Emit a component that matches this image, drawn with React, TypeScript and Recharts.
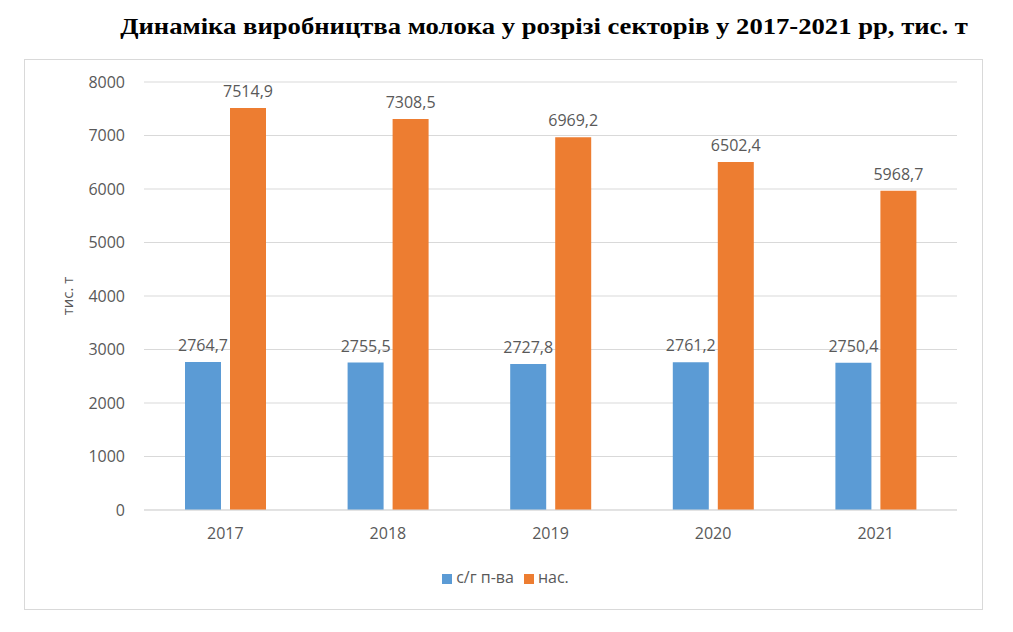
import React from 'react';
import { Bar, BarChart, CartesianGrid, LabelList, Legend, XAxis, YAxis } from 'recharts';

const years = ['2017', '2018', '2019', '2020', '2021'];
const enterprises = [2764.7, 2755.5, 2727.8, 2761.2, 2750.4];
const households = [7514.9, 7308.5, 6969.2, 6502.4, 5968.7];
const yTicks = [0, 1000, 2000, 3000, 4000, 5000, 6000, 7000, 8000];

const data = years.map((year, i) => ({
  year,
  enterprises: enterprises[i],
  households: households[i],
}));

const fmt = (v: number | string) => String(v).replace('.', ',');
const textColor = '#595959';
const font = '"Open Sans", "Noto Sans", sans-serif';

export default function App() {
  return (
    <div style={{ position: 'absolute', left: 0, top: 0, width: 1013, height: 632, background: '#fff' }}>
      <div
        style={{
          position: 'absolute',
          left: 544 - 500,
          top: 12,
          width: 1000,
          textAlign: 'center',
          fontFamily: '"Liberation Serif", "Times New Roman", serif',
          fontWeight: 'bold',
          fontSize: 24,
          lineHeight: '28px',
          color: '#000',
          transform: 'scaleX(1.11)',
        }}
      >
        Динаміка виробництва молока у розрізі секторів у 2017-2021 рр, тис. т
      </div>
      <div
        style={{
          position: 'absolute',
          left: 24,
          top: 59,
          width: 959,
          height: 551,
          border: '1px solid #d9d9d9',
          boxSizing: 'border-box',
        }}
      />
      <div style={{ position: 'absolute', left: 0, top: 0 }}>
        <BarChart
          width={1013}
          height={632}
          data={data}
          margin={{ top: 82, right: 56, left: 64, bottom: 42 }}
          barSize={36}
          barGap={9}
          style={{ fontFamily: font }}
        >
          <CartesianGrid vertical={false} stroke="#d9d9d9" />
          <XAxis
            dataKey="year"
            axisLine={{ stroke: '#d9d9d9' }}
            tickLine={false}
            height={56}
            tickMargin={12}
            tick={{ fill: textColor, fontSize: 16 }}
          />
          <YAxis
            width={80}
            domain={[0, 8000]}
            ticks={yTicks}
            axisLine={false}
            tickLine={false}
            tickMargin={13}
            tick={{ fill: textColor, fontSize: 16 }}
            label={{
              value: 'тис. т',
              angle: -90,
              position: 'insideLeft',
              offset: 0,
              dx: 4,
              fill: textColor,
              fontSize: 15,
              style: { textAnchor: 'middle' },
            }}
          />
          <Legend
            verticalAlign="bottom"
            height={24}
            iconType="square"
            iconSize={10}
            itemSorter="dataKey"
            formatter={(value) => <span style={{ color: textColor, fontSize: 16 }}>{value}</span>}
          />
          <Bar dataKey="enterprises" name="с/г п-ва" fill="#5B9BD5" isAnimationActive={false}>
            <LabelList dataKey="enterprises" position="top" offset={11} fill={textColor} fontSize={16} formatter={fmt} />
          </Bar>
          <Bar dataKey="households" name="нас." fill="#ED7D31" isAnimationActive={false}>
            <LabelList dataKey="households" position="top" offset={11} fill={textColor} fontSize={16} formatter={fmt} />
          </Bar>
        </BarChart>
      </div>
    </div>
  );
}
